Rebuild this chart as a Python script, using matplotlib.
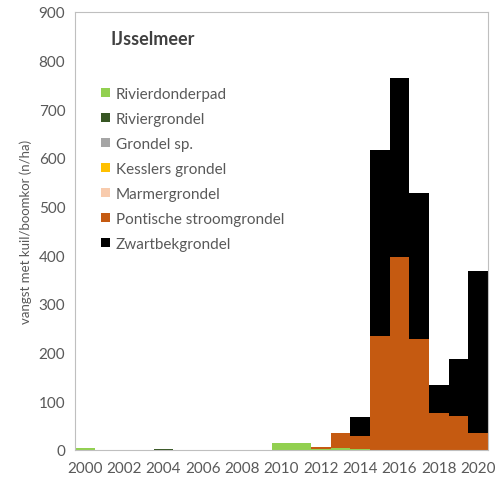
import numpy as np
import matplotlib
matplotlib.use("Agg")
import matplotlib.pyplot as plt

years = np.arange(2000, 2021)

# values (n/ha) per species, per year 2000..2020
rivierdonderpad = [5, 0, 0, 0, 0, 0, 0, 0, 0, 0, 14, 15, 1, 4, 3, 0, 0, 0, 0, 0, 0]
riviergrondel = [0, 0, 0, 0, 3, 0, 0, 0, 0, 0, 0, 0, 0, 0, 0, 0, 0, 0, 0, 0, 0]
grondel_sp = [0] * 21
kesslers = [0] * 21
marmergrondel = [0] * 21
pontische = [0, 0, 0, 0, 0, 0, 0, 0, 0, 0, 0, 0, 5, 30, 26, 234, 396, 228, 75, 70, 35]
zwartbek = [0, 0, 0, 0, 0, 0, 0, 0, 0, 0, 0, 0, 0, 1, 38, 383, 368, 301, 59, 117, 332]

series = [
    ("Rivierdonderpad", rivierdonderpad, "#92D050"),
    ("Riviergrondel", riviergrondel, "#375623"),
    ("Grondel sp.", grondel_sp, "#A5A5A5"),
    ("Kesslers grondel", kesslers, "#FFC000"),
    ("Marmergrondel", marmergrondel, "#F8CBAD"),
    ("Pontische stroomgrondel", pontische, "#C55A11"),
    ("Zwartbekgrondel", zwartbek, "#000000"),
]

plt.rcParams['font.family'] = ['Lato', 'DejaVu Sans']
txt = "#595959"

fig = plt.figure(figsize=(4.98, 4.81), dpi=100)
ax = fig.add_axes([0.1506, 0.0624, 0.8294, 0.9106])

bottom = np.zeros(len(years))
for name, vals, col in series:
    vals = np.array(vals, dtype=float)
    ax.bar(years, vals, width=1.0, bottom=bottom, color=col, label=name,
           edgecolor="none")
    bottom += vals

ax.set_xlim(1999.5, 2020.5)
ax.set_ylim(0, 900)
ax.set_xticks(np.arange(2000, 2021, 2))
ax.set_yticks(np.arange(0, 901, 100))
ax.tick_params(length=0, labelsize=11, labelcolor=txt)
ax.tick_params(axis="x", pad=8)
ax.tick_params(axis="y", pad=7)
for s in ax.spines.values():
    s.set_color("#BFBFBF")
    s.set_linewidth(0.8)

ax.set_ylabel("vangst met kuil/boomkor (n/ha)", fontsize=9.5, color=txt, labelpad=5)
ax.text(0.085, 0.958, "IJsselmeer", transform=ax.transAxes, fontsize=13,
        fontweight="bold", color="#404040", va="top")

ax.legend(loc="upper left", bbox_to_anchor=(0.03, 0.86), frameon=False,
          fontsize=11, labelcolor=txt, handlelength=0.55, handleheight=0.55,
          handletextpad=0.4, labelspacing=0.72)

fig.savefig("out.png", dpi=100)
